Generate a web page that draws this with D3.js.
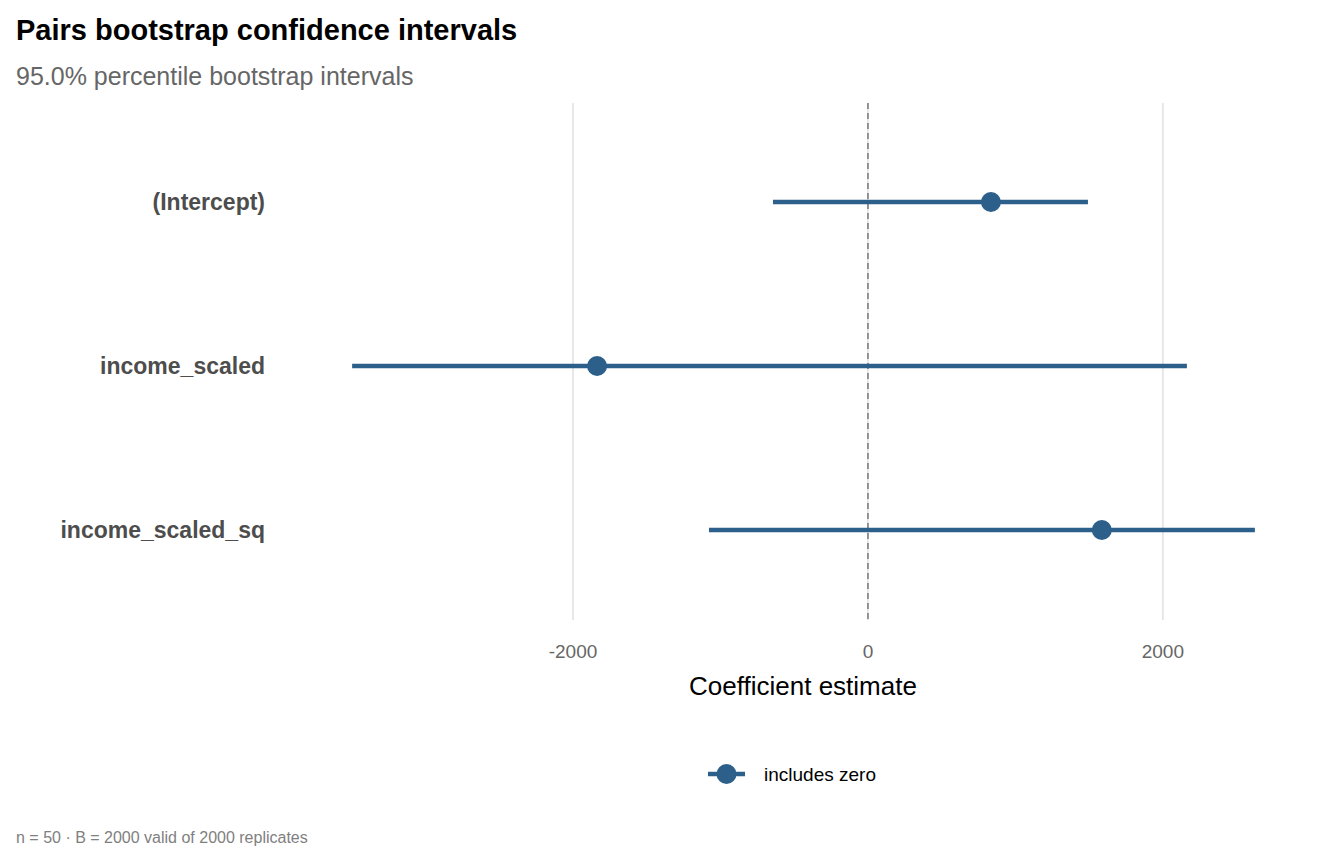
<!DOCTYPE html>
<html><head><meta charset="utf-8">
<script src="https://cdn.jsdelivr.net/npm/d3@7"></script>
<style>body{margin:0;background:#fff}text{font-family:"Liberation Sans",Arial,sans-serif}</style>
</head><body><svg id="c" width="1344" height="864"></svg>
<script>
const terms = ["(Intercept)", "income_scaled", "income_scaled_sq"];
const estimates = [834, -1837, 1586];
const lows = [-644, -3498, -1078];
const highs = [1492, 2163, 2624];
const ticks = [-2000, 0, 2000];
const col = "#2c5f8a";
const svg = d3.select("#c");
const x = d3.scaleLinear().domain([-3804, 2930]).range([307, 1300]);
const y = d3.scalePoint().domain(terms).range([202, 530]);
const panelTop = 103, panelBot = 620;
svg.selectAll(".g").data(ticks).join("line").attr("x1", d => x(d)).attr("x2", d => x(d))
  .attr("y1", panelTop).attr("y2", panelBot).attr("stroke", "#e5e5e5").attr("stroke-width", 1.8);
svg.append("line").attr("x1", x(0)).attr("x2", x(0)).attr("y1", panelTop).attr("y2", panelBot)
  .attr("stroke", "#7f7f7f").attr("stroke-width", 1.6).attr("stroke-dasharray", "6,4");
svg.selectAll(".tl").data(ticks).join("text").attr("x", d => x(d)).attr("y", 658)
  .attr("text-anchor", "middle").attr("font-size", 19).attr("fill", "#666").text(d => d);
terms.forEach((t, i) => {
  svg.append("line").attr("x1", x(lows[i])).attr("x2", x(highs[i])).attr("y1", y(t)).attr("y2", y(t))
    .attr("stroke", col).attr("stroke-width", 4.5);
  svg.append("circle").attr("cx", x(estimates[i])).attr("cy", y(t)).attr("r", 10).attr("fill", col);
  svg.append("text").attr("x", 265).attr("y", y(t) + 8).attr("text-anchor", "end")
    .attr("font-size", 23).attr("font-weight", "bold").attr("fill", "#4d4d4d").text(t);
});
svg.append("text").attr("x", 803).attr("y", 695).attr("text-anchor", "middle").attr("font-size", 26).attr("fill", "#000").text("Coefficient estimate");
svg.append("text").attr("x", 16).attr("y", 40).attr("font-size", 29).attr("font-weight", "bold").attr("fill", "#000").text("Pairs bootstrap confidence intervals");
svg.append("text").attr("x", 16).attr("y", 85).attr("font-size", 25).attr("fill", "#666").text("95.0% percentile bootstrap intervals");
svg.append("line").attr("x1", 708).attr("x2", 745).attr("y1", 774).attr("y2", 774).attr("stroke", col).attr("stroke-width", 4.5);
svg.append("circle").attr("cx", 726.5).attr("cy", 774).attr("r", 10).attr("fill", col);
svg.append("text").attr("x", 764).attr("y", 781).attr("font-size", 19).attr("fill", "#000").text("includes zero");
svg.append("text").attr("x", 16).attr("y", 843).attr("font-size", 16).attr("fill", "#808080").text("n = 50  ·  B = 2000 valid of 2000 replicates");
</script></body></html>
